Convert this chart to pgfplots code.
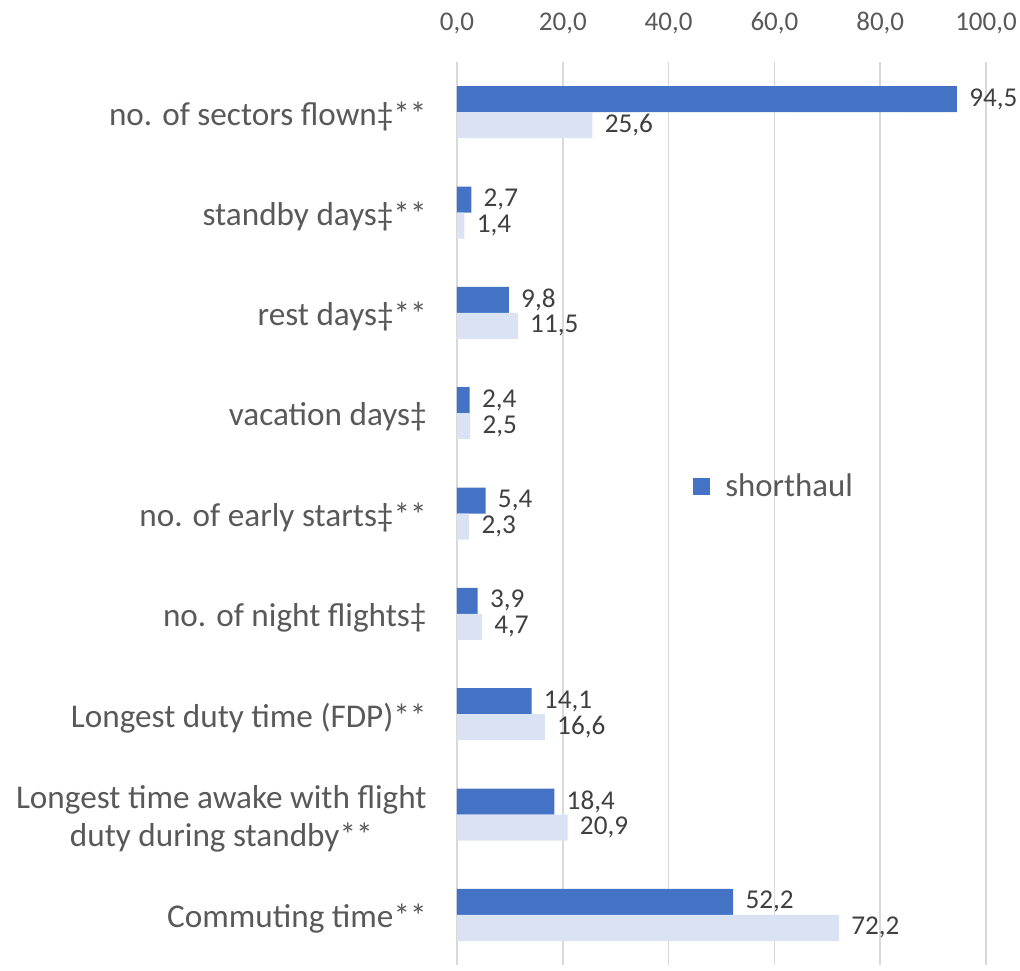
\documentclass[border=0pt]{standalone}
\usepackage{pgfplots}
\pgfplotsset{compat=1.18}
\usepackage{fontspec}
\setmainfont{Carlito}
\definecolor{dark}{HTML}{4472C4}
\definecolor{light}{HTML}{DAE3F3}
\definecolor{txt}{HTML}{595959}
\definecolor{lbl}{HTML}{404040}
\definecolor{grd}{HTML}{D9D9D9}
\begin{document}
\begin{tikzpicture}
\useasboundingbox (-228.5pt,-2.5pt) rectangle (281.5pt,482.5pt);
\begin{axis}[
  at={(0,0)}, anchor=south west,
  width=264.5pt, height=451.5pt, scale only axis,
  xbar, bar width=13pt,
  xmin=0, xmax=100,
  ymin=-0.5, ymax=8.5, y dir=reverse,
  ytick={0,...,8},
  yticklabels={{no. of sectors flown‡**},{standby days‡**},{rest days‡**},{vacation days‡},{no. of early starts‡**},{no. of night flights‡},{Longest duty time (FDP)**},{Longest time awake with flight\\duty during standby**},{Commuting time**}},
  xtick={0,20,40,60,80,100},
  xticklabel pos=upper,
  xticklabel={\pgfmathprintnumber[fixed,fixed zerofill,precision=1,use comma]{\tick}},
  /pgf/number format/assume math mode=true,
  axis line style={draw=none},
  major tick length=0pt,
  xmajorgrids, ymajorgrids=false,
  grid style={grd, line width=0.75pt},
  xticklabel style={font=\fontsize{13.5}{16}\selectfont, text=txt, anchor=base, yshift=15.7pt},
  yticklabel style={font=\fontsize{16.6}{19}\selectfont, text=txt, anchor=east, inner sep=0pt, xshift=-15pt, yshift=-2pt, align=center},
  nodes near coords={\pgfmathprintnumber[fixed,fixed zerofill,precision=1,use comma]{\pgfplotspointmeta}},
  nodes near coords style={font=\fontsize{13.6}{16}\selectfont, text=lbl, anchor=west, inner sep=0pt, xshift=6pt},
  legend style={at={(axis description cs:0.446,0.53)}, anchor=west, draw=none, fill=none, inner sep=0pt, font=\fontsize{16.4}{19}\selectfont, text=txt, /tikz/every odd column/.append style={column sep=5.5pt}},
  legend image code/.code={\fill[dark] (0pt,-4.25pt) rectangle (8.5pt,4.25pt);},
  clip=false,
]
\addplot[fill=dark, draw=none, bar shift=6.5pt] coordinates {
  (94.5,0) (2.7,1) (9.8,2) (2.4,3) (5.4,4) (3.9,5) (14.1,6) (18.4,7) (52.2,8)};
\addlegendentry{shorthaul}
\addplot[fill=light, draw=none, bar shift=-6.5pt] coordinates {
  (25.6,0) (1.4,1) (11.5,2) (2.5,3) (2.3,4) (4.7,5) (16.6,6) (20.9,7) (72.2,8)};
\end{axis}
\end{tikzpicture}
\end{document}
